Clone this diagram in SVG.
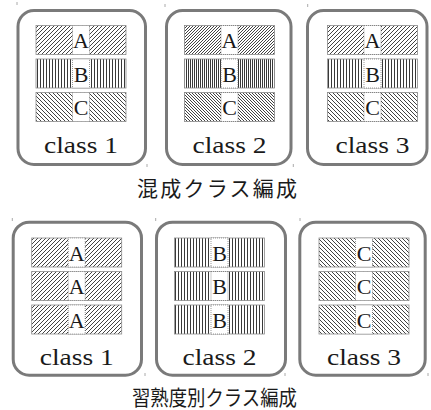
<svg xmlns="http://www.w3.org/2000/svg" width="431" height="410" viewBox="0 0 431 410">
<style>
.box{fill:none;stroke:#7a7a7a;stroke-width:3}
.cell{stroke:#8a8a8a;stroke-width:0.8;fill:none}
.lbl{fill:#fff;stroke:#555;stroke-width:0.6;stroke-dasharray:1 1}
.tick{stroke:#aaa;stroke-width:1}
</style>
<defs>
<pattern id="hA" width="4" height="4" patternUnits="userSpaceOnUse"><path d="M-1,1 L1,-1 M0,4 L4,0 M3,5 L5,3" stroke="#111" stroke-width="0.8"/></pattern>
<pattern id="hA2" width="3" height="3" patternUnits="userSpaceOnUse"><path d="M-1,1 L1,-1 M0,3 L3,0 M2,4 L4,2" stroke="#111" stroke-width="0.8"/></pattern>
<pattern id="hB" width="3" height="10" patternUnits="userSpaceOnUse"><line x1="1.5" y1="0" x2="1.5" y2="10" stroke="#222" stroke-width="0.9"/></pattern>
<pattern id="hB2" width="2" height="10" patternUnits="userSpaceOnUse"><line x1="0.5" y1="0" x2="0.5" y2="10" stroke="#222" stroke-width="0.9"/></pattern>
<pattern id="hC" width="4" height="4" patternUnits="userSpaceOnUse"><path d="M-1,3 L1,5 M0,0 L4,4 M3,-1 L5,1" stroke="#111" stroke-width="0.8"/></pattern>
<pattern id="hC2" width="3" height="3" patternUnits="userSpaceOnUse"><path d="M-1,2 L1,4 M0,0 L3,3 M2,-1 L4,1" stroke="#111" stroke-width="0.8"/></pattern>
</defs>

<g id="mixed-class1" font-family="serif" fill="#1a1a1a" text-anchor="middle">
<rect class="box" x="18" y="10.5" width="127.5" height="154" rx="16"/>
<rect x="36" y="25.5" width="90" height="29" fill="url(#hA)"/><rect class="cell" x="36" y="25.5" width="90" height="29"/><rect class="lbl" x="72.5" y="25.5" width="17" height="29"/><text font-family="Liberation Serif" font-size="22" x="81" y="48">A</text>
<rect x="36" y="59" width="90" height="29" fill="url(#hB)"/><rect class="cell" x="36" y="59" width="90" height="29"/><rect class="lbl" x="72.5" y="59" width="17" height="29"/><text font-family="Liberation Serif" font-size="22" x="81" y="81.5">B</text>
<rect x="36" y="92.5" width="90" height="29" fill="url(#hC)"/><rect class="cell" x="36" y="92.5" width="90" height="29"/><rect class="lbl" x="72.5" y="92.5" width="17" height="29"/><text font-family="Liberation Serif" font-size="22" x="81" y="115">C</text>
<text font-family="Liberation Serif" font-size="23" x="81" y="152.5" textLength="74" lengthAdjust="spacingAndGlyphs">class 1</text>
</g>

<g id="mixed-class2" font-family="serif" fill="#1a1a1a" text-anchor="middle">
<rect class="box" x="166.5" y="10.5" width="124.5" height="154" rx="16"/>
<rect x="184.5" y="25.5" width="90" height="29" fill="url(#hA2)"/><rect class="cell" x="184.5" y="25.5" width="90" height="29"/><rect class="lbl" x="221" y="25.5" width="17" height="29"/><text font-family="Liberation Serif" font-size="22" x="229.5" y="48">A</text>
<rect x="184.5" y="59" width="90" height="29" fill="url(#hB2)"/><rect class="cell" x="184.5" y="59" width="90" height="29"/><rect class="lbl" x="221" y="59" width="17" height="29"/><text font-family="Liberation Serif" font-size="22" x="229.5" y="81.5">B</text>
<rect x="184.5" y="92.5" width="90" height="29" fill="url(#hC2)"/><rect class="cell" x="184.5" y="92.5" width="90" height="29"/><rect class="lbl" x="221" y="92.5" width="17" height="29"/><text font-family="Liberation Serif" font-size="22" x="229.5" y="115">C</text>
<text font-family="Liberation Serif" font-size="23" x="229.5" y="152.5" textLength="74" lengthAdjust="spacingAndGlyphs">class 2</text>
</g>

<g id="mixed-class3" font-family="serif" fill="#1a1a1a" text-anchor="middle">
<rect class="box" x="307.5" y="10.5" width="119.5" height="154" rx="16"/>
<rect x="327.5" y="25.5" width="90" height="29" fill="url(#hA)"/><rect class="cell" x="327.5" y="25.5" width="90" height="29"/><rect class="lbl" x="364" y="25.5" width="17" height="29"/><text font-family="Liberation Serif" font-size="22" x="372.5" y="48">A</text>
<rect x="327.5" y="59" width="90" height="29" fill="url(#hB)"/><rect class="cell" x="327.5" y="59" width="90" height="29"/><rect class="lbl" x="364" y="59" width="17" height="29"/><text font-family="Liberation Serif" font-size="22" x="372.5" y="81.5">B</text>
<rect x="327.5" y="92.5" width="90" height="29" fill="url(#hC)"/><rect class="cell" x="327.5" y="92.5" width="90" height="29"/><rect class="lbl" x="364" y="92.5" width="17" height="29"/><text font-family="Liberation Serif" font-size="22" x="372.5" y="115">C</text>
<text font-family="Liberation Serif" font-size="23" x="372.5" y="152.5" textLength="74" lengthAdjust="spacingAndGlyphs">class 3</text>
</g>

<g id="caption-mixed" font-family="sans-serif" fill="#1a1a1a" text-anchor="middle">
<text font-family="Noto Sans CJK JP" font-size="21" x="217" y="196" textLength="160" lengthAdjust="spacing">混成クラス編成</text>
</g>

<g id="level-class1" font-family="serif" fill="#1a1a1a" text-anchor="middle">
<rect class="box" x="13.2" y="222.2" width="128.3" height="153" rx="16"/>
<rect x="31.7" y="238" width="90" height="29" fill="url(#hA)"/><rect class="cell" x="31.7" y="238" width="90" height="29"/><rect class="lbl" x="68.2" y="238" width="17" height="29"/><text font-family="Liberation Serif" font-size="22" x="76.7" y="260.5">A</text>
<rect x="31.7" y="271.5" width="90" height="29" fill="url(#hA)"/><rect class="cell" x="31.7" y="271.5" width="90" height="29"/><rect class="lbl" x="68.2" y="271.5" width="17" height="29"/><text font-family="Liberation Serif" font-size="22" x="76.7" y="294">A</text>
<rect x="31.7" y="305" width="90" height="29" fill="url(#hA)"/><rect class="cell" x="31.7" y="305" width="90" height="29"/><rect class="lbl" x="68.2" y="305" width="17" height="29"/><text font-family="Liberation Serif" font-size="22" x="76.7" y="327.5">A</text>
<text font-family="Liberation Serif" font-size="23" x="76.7" y="365" textLength="74" lengthAdjust="spacingAndGlyphs">class 1</text>
</g>

<g id="level-class2" font-family="serif" fill="#1a1a1a" text-anchor="middle">
<rect class="box" x="156.5" y="222.2" width="129" height="153" rx="16"/>
<rect x="174.5" y="238" width="90" height="29" fill="url(#hB)"/><rect class="cell" x="174.5" y="238" width="90" height="29"/><rect class="lbl" x="211" y="238" width="17" height="29"/><text font-family="Liberation Serif" font-size="22" x="219.5" y="260.5">B</text>
<rect x="174.5" y="271.5" width="90" height="29" fill="url(#hB)"/><rect class="cell" x="174.5" y="271.5" width="90" height="29"/><rect class="lbl" x="211" y="271.5" width="17" height="29"/><text font-family="Liberation Serif" font-size="22" x="219.5" y="294">B</text>
<rect x="174.5" y="305" width="90" height="29" fill="url(#hB)"/><rect class="cell" x="174.5" y="305" width="90" height="29"/><rect class="lbl" x="211" y="305" width="17" height="29"/><text font-family="Liberation Serif" font-size="22" x="219.5" y="327.5">B</text>
<text font-family="Liberation Serif" font-size="23" x="219.5" y="365" textLength="74" lengthAdjust="spacingAndGlyphs">class 2</text>
</g>

<g id="level-class3" font-family="serif" fill="#1a1a1a" text-anchor="middle">
<rect class="box" x="299.8" y="222.2" width="125.4" height="153" rx="16"/>
<rect x="319" y="238" width="90" height="29" fill="url(#hC)"/><rect class="cell" x="319" y="238" width="90" height="29"/><rect class="lbl" x="355.5" y="238" width="17" height="29"/><text font-family="Liberation Serif" font-size="22" x="364" y="260.5">C</text>
<rect x="319" y="271.5" width="90" height="29" fill="url(#hC)"/><rect class="cell" x="319" y="271.5" width="90" height="29"/><rect class="lbl" x="355.5" y="271.5" width="17" height="29"/><text font-family="Liberation Serif" font-size="22" x="364" y="294">C</text>
<rect x="319" y="305" width="90" height="29" fill="url(#hC)"/><rect class="cell" x="319" y="305" width="90" height="29"/><rect class="lbl" x="355.5" y="305" width="17" height="29"/><text font-family="Liberation Serif" font-size="22" x="364" y="327.5">C</text>
<text font-family="Liberation Serif" font-size="23" x="364" y="365" textLength="74" lengthAdjust="spacingAndGlyphs">class 3</text>
</g>

<g id="caption-level" font-family="sans-serif" fill="#1a1a1a" text-anchor="middle">
<text font-family="Noto Sans CJK JP" font-size="21" x="214.5" y="405" textLength="165" lengthAdjust="spacingAndGlyphs">習熟度別クラス編成</text>
</g>

<g id="connectors"/>

<g id="marks">
<line class="tick" x1="17" y1="2" x2="17" y2="5"/>
<line class="tick" x1="165" y1="4" x2="165" y2="7"/>
<line class="tick" x1="307.7" y1="4" x2="307.7" y2="7"/>
<line class="tick" x1="147" y1="164" x2="147" y2="167"/>
<line class="tick" x1="293.3" y1="164" x2="293.3" y2="167"/>
<line class="tick" x1="12.3" y1="218" x2="12.3" y2="221"/>
<line class="tick" x1="155.7" y1="218" x2="155.7" y2="221"/>
<line class="tick" x1="300" y1="218" x2="300" y2="221"/>
<line class="tick" x1="145" y1="373" x2="145" y2="376"/>
<line class="tick" x1="285" y1="373" x2="285" y2="376"/>
<line class="tick" x1="428" y1="373" x2="428" y2="376"/>
</g>
</svg>
